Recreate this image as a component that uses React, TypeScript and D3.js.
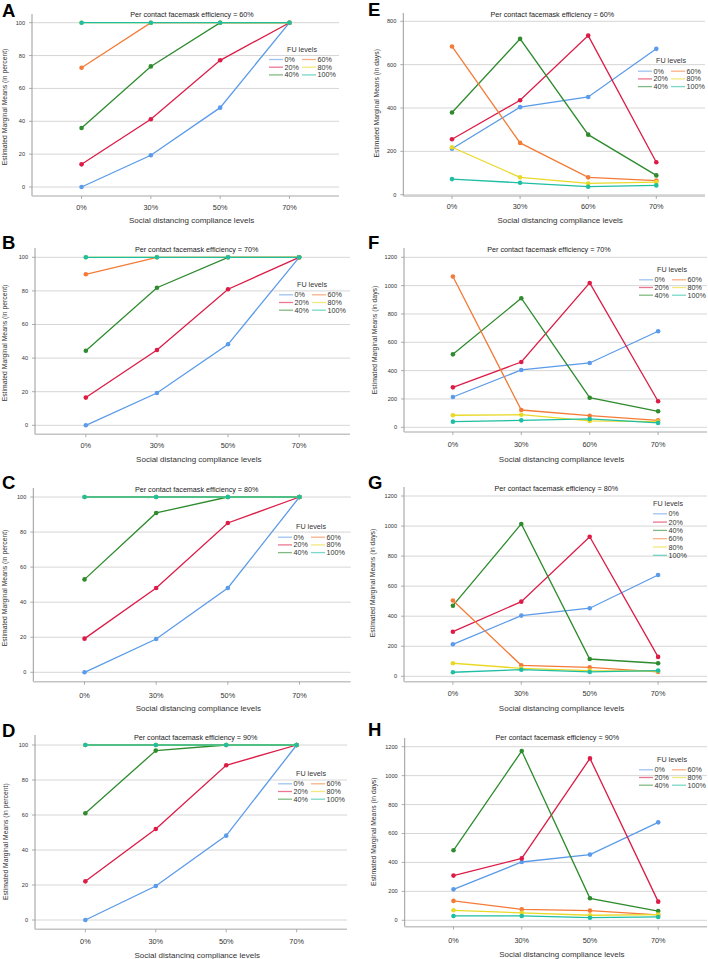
import * as d3 from "d3";

const W = 708,
  H = 959;
const font = "'Liberation Sans', Arial, sans-serif";

// FU levels (series) and their colours
const fuLevels = ["0%", "20%", "40%", "60%", "80%", "100%"];
const fuColors = ["#5b9be9", "#dc1c47", "#2e8b2e", "#f47b37", "#e9d927", "#1fbea2"];

// x categories
const sdLevels = ["0%", "30%", "50%", "70%"];
const sdLevelsEF = ["0%", "30%", "60%", "70%"];

// y ticks
const ticksPct = [0, 20, 40, 60, 80, 100];
const ticksE = [0, 200, 400, 600, 800];
const ticksDays = [0, 200, 400, 600, 800, 1000, 1200];

// rows follow fuLevels: 0%, 20%, 40%, 60%, 80%, 100%
const valuesA = [
  [0, 19.3, 48.3, 100],
  [13.8, 41.2, 77.1, 100],
  [35.9, 73.4, 100, 100],
  [72.6, 100, 100, 100],
  [100, 100, 100, 100],
  [100, 100, 100, 100],
];
const valuesB = [
  [0, 19.2, 48.2, 100],
  [16.5, 44.8, 81, 100],
  [44.4, 81.9, 100, 100],
  [89.9, 100, 100, 100],
  [100, 100, 100, 100],
  [100, 100, 100, 100],
];
const valuesC = [
  [0, 19, 48.1, 100],
  [19.2, 48.1, 85.2, 100],
  [53, 90.9, 100, 100],
  [100, 100, 100, 100],
  [100, 100, 100, 100],
  [100, 100, 100, 100],
];
const valuesD = [
  [0, 19.4, 48.2, 100],
  [22.1, 52, 88.4, 100],
  [61, 96.8, 100, 100],
  [100, 100, 100, 100],
  [100, 100, 100, 100],
  [100, 100, 100, 100],
];
const valuesE = [
  [212, 404, 451, 673],
  [256, 436, 734, 150],
  [379, 719, 277, 89],
  [684, 239, 80, 65],
  [219, 80, 52, 58],
  [72, 55, 37, 43],
];
const valuesF = [
  [214, 405, 454, 678],
  [282, 461, 1019, 184],
  [515, 911, 209, 113],
  [1064, 122, 82, 49],
  [85, 89, 45, 40],
  [40, 49, 59, 31],
];
const valuesG = [
  [213, 404, 453, 674],
  [297, 497, 929, 129],
  [470, 1014, 115, 87],
  [504, 73, 60, 29],
  [87, 53, 38, 35],
  [27, 44, 29, 38],
];
const valuesH = [
  [214, 403, 454, 677],
  [309, 428, 1119, 129],
  [484, 1170, 152, 64],
  [134, 76, 67, 37],
  [69, 51, 35, 39],
  [30, 30, 18, 23],
];

const efficiency = ["60%", "70%", "80%", "90%"];
const pctTitle = "Estimated Marginal Means (in percent)";
const daysTitle = "Estimated Marginal Means (in days)";

type Panel = {
  letter: string;
  lx: number; ly: number;
  L: number; R: number; T: number; B: number;
  y0: number; yTop: number; yMax: number;
  ticks: number[]; cats: string[]; values: number[][];
  eff: string; tx: number; ty: number;
  xLabY: number; xTitleY: number;
  yTitle: string; ytx: number; yty: number;
  legX: number; legY: number; legCols: number;
};

const panels: Panel[] = [
  { letter: "A", lx: 2, ly: 17, L: 32, R: 339, T: 14, B: 196, y0: 187, yTop: 22.7, yMax: 100, ticks: ticksPct, cats: sdLevels, values: valuesA, eff: efficiency[0], tx: 192, ty: 14, xLabY: 207, xTitleY: 220, yTitle: pctTitle, ytx: 5, yty: 107, legX: 269, legY: 49, legCols: 2 },
  { letter: "B", lx: 2, ly: 249, L: 35, R: 350, T: 248, B: 434.3, y0: 425.3, yTop: 257.3, yMax: 100, ticks: ticksPct, cats: sdLevels, values: valuesB, eff: efficiency[1], tx: 196.7, ty: 249.3, xLabY: 445, xTitleY: 459.3, yTitle: pctTitle, ytx: 5, yty: 343, legX: 279, legY: 284.3, legCols: 2 },
  { letter: "C", lx: 2, ly: 489, L: 33.3, R: 350.7, T: 488, B: 681.7, y0: 672.3, yTop: 497, yMax: 100, ticks: ticksPct, cats: sdLevels, values: valuesC, eff: efficiency[2], tx: 196.7, ty: 489.3, xLabY: 695, xTitleY: 708.3, yTitle: pctTitle, ytx: 5, yty: 588, legX: 278, legY: 526.7, legCols: 2 },
  { letter: "D", lx: 2, ly: 737, L: 35, R: 347, T: 735, B: 929.3, y0: 920, yTop: 745, yMax: 100, ticks: ticksPct, cats: sdLevels, values: valuesD, eff: efficiency[3], tx: 195.7, ty: 737.7, xLabY: 941, xTitleY: 955, yTitle: pctTitle, ytx: 6, yty: 841.7, legX: 278, legY: 773.3, legCols: 2 },
  { letter: "E", lx: 368, ly: 16, L: 403.3, R: 705, T: 13, B: 196, y0: 194.7, yTop: 21.3, yMax: 800, ticks: ticksE, cats: sdLevelsEF, values: valuesE, eff: efficiency[0], tx: 552.3, ty: 14, xLabY: 206.7, xTitleY: 220, yTitle: daysTitle, ytx: 376.3, yty: 103.3, legX: 638, legY: 60.7, legCols: 2 },
  { letter: "F", lx: 368, ly: 249, L: 404, R: 707, T: 248, B: 432, y0: 427.3, yTop: 257.3, yMax: 1200, ticks: ticksDays, cats: sdLevelsEF, values: valuesF, eff: efficiency[1], tx: 549, ty: 249.3, xLabY: 444, xTitleY: 459.3, yTitle: daysTitle, ytx: 374.7, yty: 340, legX: 639, legY: 269.3, legCols: 2 },
  { letter: "G", lx: 368, ly: 489, L: 404, R: 707, T: 487, B: 681.7, y0: 676.3, yTop: 496, yMax: 1200, ticks: ticksDays, cats: sdLevels, values: valuesG, eff: efficiency[2], tx: 556.3, ty: 488.3, xLabY: 693.3, xTitleY: 707.7, yTitle: daysTitle, ytx: 373, yty: 583, legX: 653, legY: 503.3, legCols: 1 },
  { letter: "H", lx: 368, ly: 736, L: 404.7, R: 707, T: 738, B: 926.7, y0: 920.3, yTop: 746.7, yMax: 1200, ticks: ticksDays, cats: sdLevels, values: valuesH, eff: efficiency[3], tx: 557.3, ty: 737.7, xLabY: 940, xTitleY: 954.3, yTitle: daysTitle, ytx: 374, yty: 831.7, legX: 639, legY: 759.3, legCols: 2 },
];

const Legend = ({ p }: { p: Panel }) => {
  const rows = p.legCols === 2 ? 3 : 6;
  const rowH = p.legCols === 2 ? 7.7 : 8.3;
  const titleX = p.legCols === 2 ? p.legX + 33 : p.legX + 15;
  return (
    <g fontFamily={font} fontSize={7.2} fill="#333">
      <text x={titleX} y={p.legY} dy="0.35em" textAnchor="middle">FU levels</text>
      {fuLevels.map((lv, i) => {
        const col = Math.floor(i / rows);
        const row = i % rows;
        const x = p.legX + col * 33;
        const y = p.legY + 10.5 + row * rowH;
        return (
          <g key={lv}>
            <line x1={x} x2={x + 14} y1={y} y2={y} stroke={fuColors[i]} strokeOpacity={0.6} strokeWidth={1.3} />
            <text x={x + 15.5} y={y} dy="0.35em">{lv}</text>
          </g>
        );
      })}
    </g>
  );
};

const PanelChart = ({ p }: { p: Panel }) => {
  const x = d3.scalePoint<string>().domain(p.cats).range([p.L, p.R]).padding(0.715);
  const y = d3.scaleLinear().domain([0, p.yMax]).range([p.y0, p.yTop]);
  const line = d3
    .line<number>()
    .x((_, i) => x(p.cats[i]) as number)
    .y((d) => y(d));

  return (
    <g>
      <text x={p.lx} y={p.ly} fontFamily={font} fontWeight="bold" fontSize={18.5} fill="#000">
        {p.letter}
      </text>
      {/* grid */}
      {p.ticks.map((t) => (
        <g key={t}>
          <line x1={p.L} x2={p.R} y1={y(t)} y2={y(t)} stroke="#d6d6d6" strokeWidth={1} />
          <line x1={p.L - 3} x2={p.L} y1={y(t)} y2={y(t)} stroke="#999" strokeWidth={0.8} />
          <text x={p.L - 7} y={y(t)} dy="0.35em" textAnchor="end" fontFamily={font} fontSize={5.6} fill="#333">
            {t}
          </text>
        </g>
      ))}
      {/* axes */}
      <line x1={p.L} x2={p.L} y1={p.T} y2={p.B} stroke="#9a9a9a" strokeWidth={1} />
      <line x1={p.L} x2={p.R} y1={p.B} y2={p.B} stroke="#c4c4c4" strokeWidth={1.4} />
      {p.cats.map((c) => (
        <g key={c}>
          <line x1={x(c)} x2={x(c)} y1={p.B} y2={p.B + 3} stroke="#999" strokeWidth={0.8} />
          <text x={x(c)} y={p.xLabY} dy="0.35em" textAnchor="middle" fontFamily={font} fontSize={7.3} fill="#333">
            {c}
          </text>
        </g>
      ))}
      <text x={(p.L + p.R) / 2 + (p.R - p.L) * 0.02} y={p.xTitleY} dy="0.35em" textAnchor="middle" fontFamily={font} fontSize={8} fill="#333">
        Social distancing compliance levels
      </text>
      <text
        transform={`translate(${p.ytx},${p.yty}) rotate(-90)`}
        dy="0.35em"
        textAnchor="middle"
        fontFamily={font}
        fontSize={6.8}
        fill="#333"
      >
        {p.yTitle}
      </text>
      <text x={p.tx} y={p.ty} dy="0.35em" textAnchor="middle" fontFamily={font} fontSize={7.2} fill="#222">
        {`Per contact facemask efficiency = ${p.eff}`}
      </text>
      {/* series */}
      {p.values.map((vals, si) => (
        <g key={si}>
          <path d={line(vals) as string} fill="none" stroke={fuColors[si]} strokeWidth={1.3} />
          {vals.map((v, i) => (
            <circle key={i} cx={x(p.cats[i])} cy={y(v)} r={2.3} fill={fuColors[si]} />
          ))}
        </g>
      ))}
      <Legend p={p} />
    </g>
  );
};

export default function App() {
  return (
    <svg
      width={W}
      height={H}
      viewBox={`0 0 ${W} ${H}`}
      style={{ position: "absolute", left: 0, top: 0, background: "#fff" }}
    >
      <rect width={W} height={H} fill="#fff" />
      {panels.map((p) => (
        <PanelChart key={p.letter} p={p} />
      ))}
    </svg>
  );
}
